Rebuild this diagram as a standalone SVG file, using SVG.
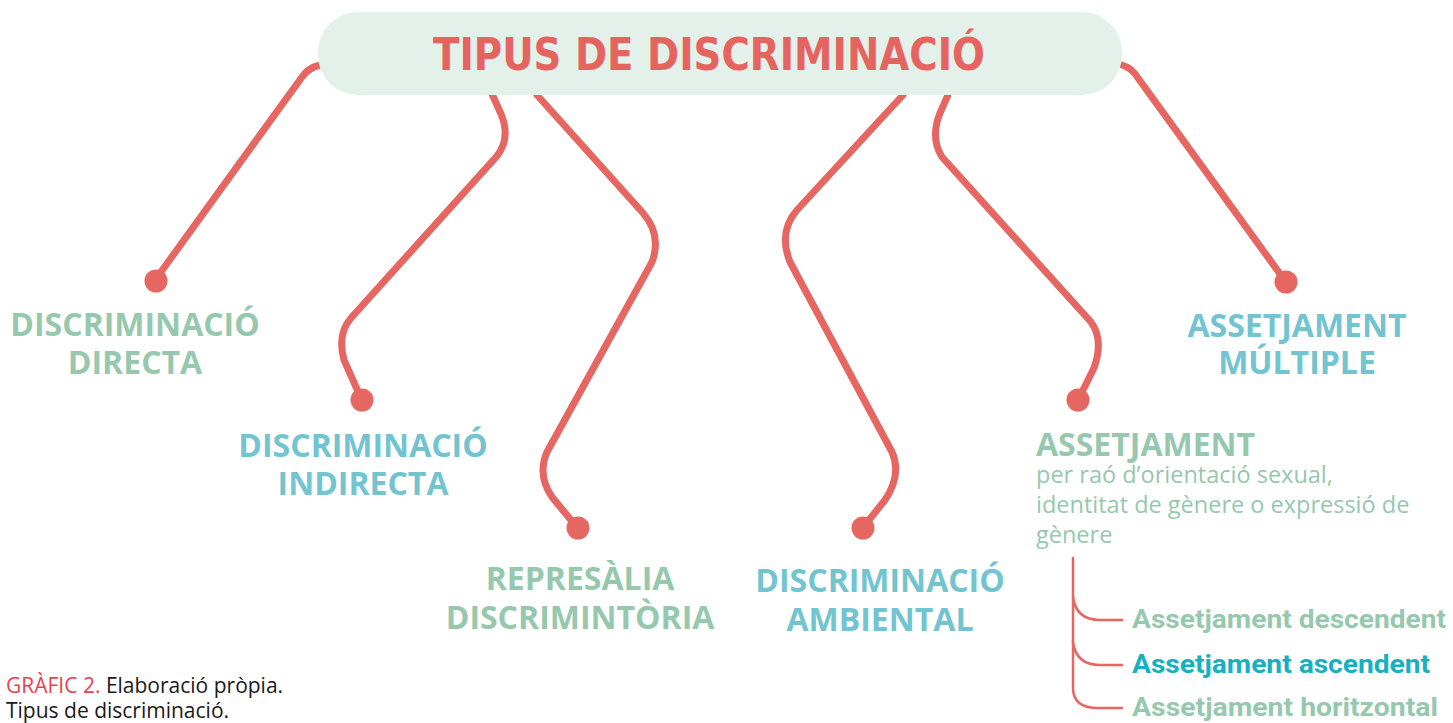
<svg xmlns="http://www.w3.org/2000/svg" width="1453" height="723" viewBox="0 0 1453 723">
<style>
.con{fill:none;stroke:#e66661;stroke-width:7;stroke-linecap:round;stroke-linejoin:round}
.dot{fill:#e66661}
.br{fill:none;stroke:#e66661;stroke-width:2.5;stroke-linecap:round}
.lbl{font-family:"Open Sans","Liberation Sans",sans-serif;font-weight:700;font-size:32px;text-anchor:middle}
.g{fill:#96c8ae}
.b{fill:#72c4d1}
.body{font-family:"Open Sans","Liberation Sans",sans-serif;font-size:23.5px;fill:#96c8ae}
.sub{font-family:"Roboto","Liberation Sans",sans-serif;font-weight:700;font-size:25px}
.cap{font-family:"Open Sans","Liberation Sans",sans-serif;font-size:21px;fill:#1a1a1a}
</style>
<rect width="1453" height="723" fill="#ffffff"/>
<g id="connectors">
<path class="con" d="M 320 65 Q 308 68 302 77 L 158 276"/>
<path class="con" d="M 492 94 L 501 114 Q 511 138 497 156 L 351 318 Q 337 334 344 360 L 360 396"/>
<path class="con" d="M 537 95 L 643 213 Q 662 235 652 262 L 547 452 Q 537 475 552 497 L 575 525"/>
<path class="con" d="M 903 95 L 797 210 Q 778 232 790 262 L 892 452 Q 902 475 885 500 L 865 525"/>
<path class="con" d="M 948 95 L 940 113 Q 930 138 942 157 L 1091 322 Q 1104 340 1094 368 L 1080 396"/>
<path class="con" d="M 1122 65 Q 1132 68 1138 78 L 1283 278"/>
<path class="br" d="M 1073 558 L 1073 688 Q 1073 708 1098 708 L 1122 708"/>
<path class="br" d="M 1073 597 Q 1076 620 1100 620 L 1122 620"/>
<path class="br" d="M 1073 642 Q 1076 665 1100 665 L 1122 665"/>
</g>
<g id="title">
<rect x="318" y="12" width="804" height="83" rx="40" fill="#e4f0ea"/>
<text x="433" y="70" textLength="552" lengthAdjust="spacingAndGlyphs" font-family="'DejaVu Sans Condensed','Liberation Sans Narrow','Liberation Sans',sans-serif" font-weight="700" font-size="45" fill="#e5645f">TIPUS DE DISCRIMINACIÓ</text>
</g>
<g id="n-directa">
<circle class="dot" cx="156" cy="281" r="11.5"/>
<text class="lbl g" x="135" y="336">DISCRIMINACIÓ</text>
<text class="lbl g" x="135" y="374">DIRECTA</text>
</g>
<g id="n-indirecta">
<circle class="dot" cx="362" cy="400" r="11.5"/>
<text class="lbl b" x="363" y="457">DISCRIMINACIÓ</text>
<text class="lbl b" x="363" y="495">INDIRECTA</text>
</g>
<g id="n-represalia">
<circle class="dot" cx="578" cy="528" r="11.5"/>
<text class="lbl g" x="580" y="590">REPRESÀLIA</text>
<text class="lbl g" x="580" y="629">DISCRIMINTÒRIA</text>
</g>
<g id="n-ambiental">
<circle class="dot" cx="863" cy="528" r="11.5"/>
<text class="lbl b" x="880" y="592">DISCRIMINACIÓ</text>
<text class="lbl b" x="880" y="631">AMBIENTAL</text>
</g>
<g id="n-assetjament">
<circle class="dot" cx="1078" cy="400" r="11.5"/>
<text class="lbl g" x="1036" y="456" style="text-anchor:start">ASSETJAMENT</text>
<text class="body" x="1036" y="483">per raó d’orientació sexual,</text>
<text class="body" x="1036" y="513">identitat de gènere o expressió de</text>
<text class="body" x="1036" y="543">gènere</text>
</g>
<g id="n-descendent"><text class="sub g" x="1132" y="628" textLength="314" lengthAdjust="spacingAndGlyphs">Assetjament descendent</text></g>
<g id="n-ascendent"><text class="sub" fill="#16b0c2" x="1132" y="673" textLength="298" lengthAdjust="spacingAndGlyphs">Assetjament ascendent</text></g>
<g id="n-horitzontal"><text class="sub g" x="1132" y="716" textLength="306" lengthAdjust="spacingAndGlyphs">Assetjament horitzontal</text></g>
<g id="n-multiple">
<circle class="dot" cx="1286" cy="282" r="11.5"/>
<text class="lbl b" x="1297" y="337">ASSETJAMENT</text>
<text class="lbl b" x="1297" y="374">MÚLTIPLE</text>
</g>
<g id="caption">
<text class="cap" x="6" y="693"><tspan fill="#e8434f">GRÀFIC 2.</tspan> Elaboració pròpia.</text>
<text class="cap" x="6" y="718">Tipus de discriminació.</text>
</g>
</svg>
